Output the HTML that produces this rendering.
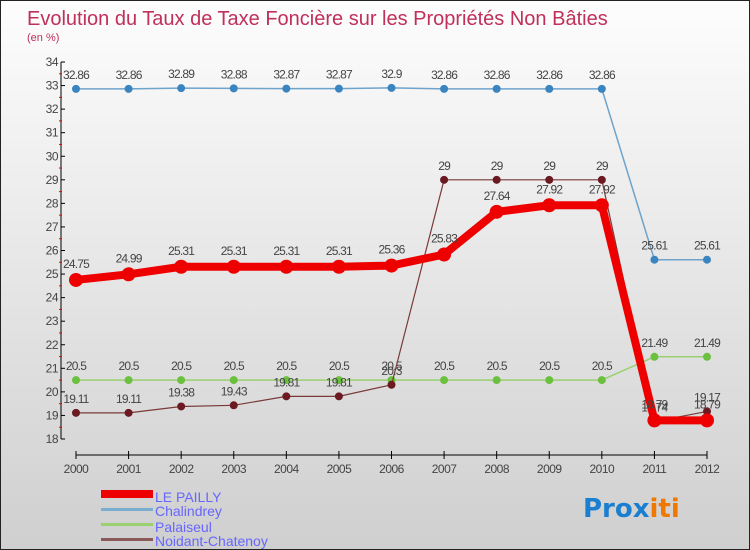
<!DOCTYPE html>
<html><head><meta charset="utf-8"><style>
body{margin:0}
#c{width:750px;height:550px;position:relative;overflow:hidden;box-sizing:border-box;border:1px solid #222;background:linear-gradient(#fdfdfd,#cfcfcf);font-family:"Liberation Sans",sans-serif}
</style></head><body>
<div id="c">
<svg id="s" width="750" height="550" style="position:absolute;left:0;top:0">
<text x="26" y="24" font-size="20" fill="#c0305a">Evolution du Taux de Taxe Foncière sur les Propriétés Non Bâties</text>
<text x="26" y="40" font-size="11" fill="#c0305a">(en %)</text>
<g id="ax"></g><g id="ser"></g>
<g>
<rect x="100" y="489" width="52" height="8" fill="#e00"/>
<text x="154" y="501" font-size="14" fill="#66f">LE PAILLY</text>
<rect x="100" y="507" width="52" height="3" fill="#7aaed0"/>
<text x="154" y="515" font-size="14" fill="#66f">Chalindrey</text>
<rect x="100" y="522" width="52" height="3" fill="#9ad070"/>
<text x="154" y="531" font-size="14" fill="#66f">Palaiseul</text>
<rect x="100" y="537" width="52" height="3" fill="#8a5a5a"/>
<text x="154" y="545" font-size="14" fill="#66f">Noidant-Chatenoy</text>
</g>
<text x="582" y="516" font-size="26" font-weight="bold" font-family="'DejaVu Sans',sans-serif"><tspan fill="#1a7fd0">Prox</tspan><tspan fill="#f07800">iti</tspan></text>
</svg>
</div>
<script>
const years=[2000,2001,2002,2003,2004,2005,2006,2007,2008,2009,2010,2011,2012];
const yTicks=[18,19,20,21,22,23,24,25,26,27,28,29,30,31,32,33,34];
const lePailly=[24.75,24.99,25.31,25.31,25.31,25.31,25.36,25.83,27.64,27.92,27.92,18.79,18.79];
const chalindrey=[32.86,32.86,32.89,32.88,32.87,32.87,32.9,32.86,32.86,32.86,32.86,25.61,25.61];
const palaiseul=[20.5,20.5,20.5,20.5,20.5,20.5,20.5,20.5,20.5,20.5,20.5,21.49,21.49];
const noidant=[19.11,19.11,19.38,19.43,19.81,19.81,20.3,29,29,29,29,18.74,19.17];
const NS="http://www.w3.org/2000/svg";
const X=i=>75+i*(706-75)/(years.length-1);
const Y=v=>438-(v-18)*(438-61)/16;
function mk(t,a,p){const e=document.createElementNS(NS,t);for(const k in a)e.setAttribute(k,a[k]);p.appendChild(e);return e;}
const ax=document.getElementById('ax'),ser=document.getElementById('ser');
let e=mk('line',{x1:60,y1:61,x2:60,y2:438,stroke:'#000'},ax);

e=mk('line',{x1:75,y1:454,x2:706,y2:454,stroke:'#000'},ax);

yTicks.forEach(v=>{mk('line',{x1:60,y1:Y(v),x2:64,y2:Y(v),stroke:'#000'},ax);
if(v<34)mk('line',{x1:58,y1:Y(v+0.5),x2:61,y2:Y(v+0.5),stroke:'#e00'},ax);
const t=mk('text',{x:57,y:Y(v)+4,'font-size':12,fill:'#444','text-anchor':'end','letter-spacing':'-0.5'},ax);t.textContent=v;
});
years.forEach((y,i)=>{mk('line',{x1:X(i),y1:450,x2:X(i),y2:458,stroke:'#000'},ax);
const t=mk('text',{x:X(i),y:472,'font-size':12,fill:'#444','text-anchor':'middle','letter-spacing':'-0.5'},ax);t.textContent=y;
});
function draw(vals,col,w,r,dotCol,name,dy){
const g=mk('g',{},ser);
const pl=mk('polyline',{points:vals.map((v,i)=>X(i)+','+Y(v)).join(' '),fill:'none',stroke:col,'stroke-width':w,'stroke-linejoin':'round'},g);

vals.forEach((v,i)=>{const c=mk('circle',{cx:X(i),cy:Y(v),r:r,fill:dotCol},g);

const t=mk('text',{x:X(i),y:Y(v)+dy,'font-size':12,fill:'#444','text-anchor':'middle','letter-spacing':'-0.8'},g);t.textContent=v;
});}
draw(chalindrey,'#6ea3cc',1.5,4,'#3a85c0','chalindrey',-10);
draw(palaiseul,'#9ad070',1.5,4,'#6cc040','palaiseul',-10);
draw(noidant,'#7a3a3a',1.2,4,'#6a1a20','noidant',-10);
draw(lePailly,'#e00',8,7,'#e00','le-pailly',-12);
</script>
</body></html>
